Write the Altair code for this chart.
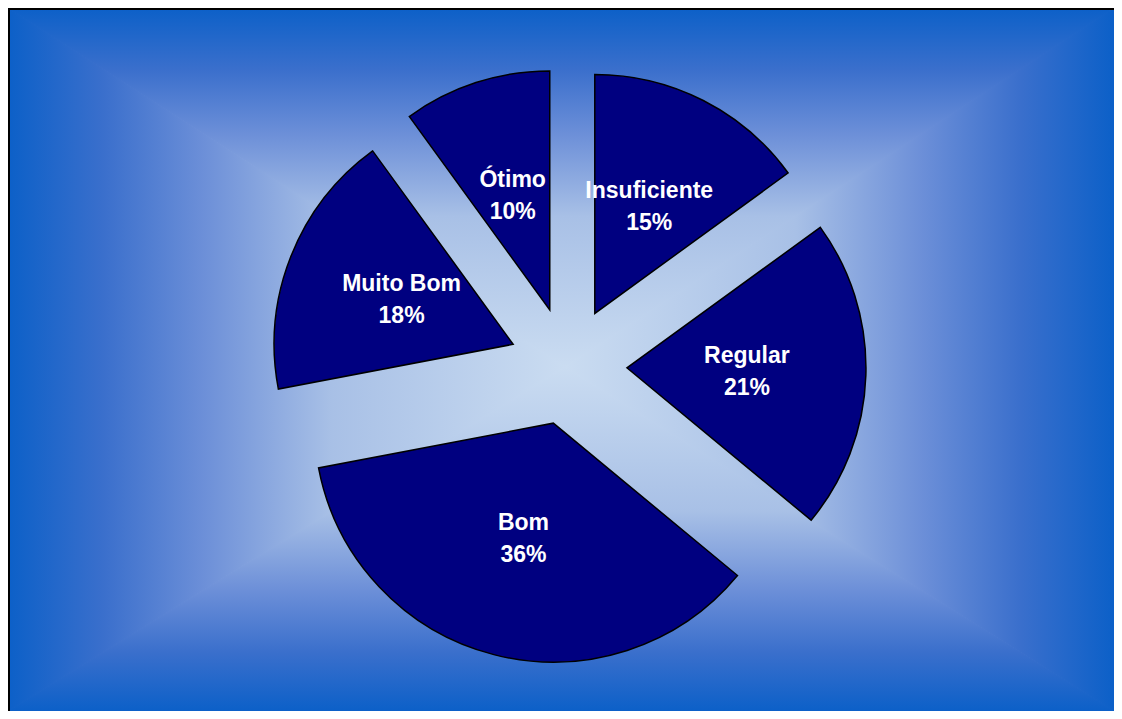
import altair as alt
import pandas as pd

# ---- data ----
categories = ["Insuficiente", "Regular", "Bom", "Muito Bom", "Ótimo"]
values = [15, 21, 36, 18, 10]
order = [0, 1, 2, 3, 4]

# ---- layout constants (chart pixel coords) ----
W, H = 1106, 703
GX, GY = 557, 359          # gradient centre
PX, PY = 560, 358          # pie centre
R = 239                    # pie radius
EXPLODE = 59               # explosion distance
LABEL_R = 179              # label distance from pie centre

df = pd.DataFrame({"category": categories, "value": values, "order": order})

edge_dark = "#0c60c8"
stops = [
    alt.GradientStop(color=edge_dark, offset=0),
    alt.GradientStop(color="#3a6fcc", offset=0.17),
    alt.GradientStop(color="#6c8fd8", offset=0.35),
    alt.GradientStop(color="#a8c0e6", offset=0.58),
    alt.GradientStop(color="#cadcf1", offset=1),
]
stops_rev = [alt.GradientStop(color=s.color, offset=1 - s.offset) for s in reversed(stops)]


def grad(x1, y1, x2, y2, st):
    return alt.LinearGradient(gradient="linear", stops=st, x1=x1, y1=y1, x2=x2, y2=y2)


# background rectangular gradient built of four triangles
top = pd.DataFrame({"x": [0, GX, W], "y": [0, 0, 0], "y2": [0, GY, 0]})
bottom = pd.DataFrame({"x": [0, GX, W], "y": [H, H, H], "y2": [H, GY, H]})
left = pd.DataFrame({"y": [0, GY, H], "x": [0, 0, 0], "x2": [0, GX, 0]})
right = pd.DataFrame({"y": [0, GY, H], "x": [W, W, W], "x2": [W, GX, W]})

noax = dict(scale=None, axis=None)


def tri(data, orient, g):
    m = alt.Chart(data).mark_area(orient=orient, fill=g, stroke=g, strokeWidth=1.2)
    if orient == "vertical":
        return m.encode(x=alt.X("x:Q", **noax), y=alt.Y("y:Q", **noax), y2="y2:Q")
    return m.encode(y=alt.Y("y:Q", **noax), x=alt.X("x:Q", **noax), x2="x2:Q")


tri_top = tri(top, "vertical", grad(0, 0, 0, 1, stops))
tri_bottom = tri(bottom, "vertical", grad(0, 0, 0, 1, stops_rev))
tri_left = tri(left, "horizontal", grad(0, 0, 1, 0, stops))
tri_right = tri(right, "horizontal", grad(0, 0, 1, 0, stops_rev))

border_top = alt.Chart(df).mark_rule(color="#000000", strokeWidth=2).encode(
    x=alt.value(0), x2=alt.value(W), y=alt.value(1))
border_left = alt.Chart(df).mark_rule(color="#000000", strokeWidth=2).encode(
    y=alt.value(0), y2=alt.value(H), x=alt.value(1))

base = alt.Chart(df).transform_window(
    cum="sum(value)", sort=[alt.SortField("order")]
).transform_joinaggregate(total="sum(value)").transform_calculate(
    t0="(datum.cum - datum.value) / datum.total * 2 * PI",
    t1="datum.cum / datum.total * 2 * PI",
).transform_calculate(
    mid="(datum.t0 + datum.t1) / 2"
).transform_calculate(
    cx=f"{PX} + {EXPLODE} * sin(datum.mid)",
    cy=f"{PY} - {EXPLODE} * cos(datum.mid)",
    lx=f"{PX} + {LABEL_R} * sin(datum.mid)",
    ly=f"{PY} - {LABEL_R} * cos(datum.mid)",
    label="datum.category + '\\n' + datum.value + '%'",
)

arcs = base.mark_arc(radius=R, fill="#000080", stroke="#000000", strokeWidth=1.5).encode(
    theta=alt.Theta("t0:Q", scale=None),
    theta2="t1:Q",
    x=alt.X("cx:Q", **noax),
    y=alt.Y("cy:Q", **noax),
)

labels = base.mark_text(
    color="white", font="Liberation Sans", fontWeight="bold", fontSize=23,
    lineBreak="\n", lineHeight=32, align="center", baseline="middle", dy=-16,
).encode(
    x=alt.X("lx:Q", **noax),
    y=alt.Y("ly:Q", **noax),
    text="label:N",
)

chart = alt.layer(
    tri_top, tri_bottom, tri_left, tri_right, border_top, border_left, arcs, labels
).properties(
    width=W, height=H, padding=0, autosize="none", background="white"
).configure_view(stroke=None)

chart.save("out.html", embed_options={"renderer": "svg", "actions": False})
